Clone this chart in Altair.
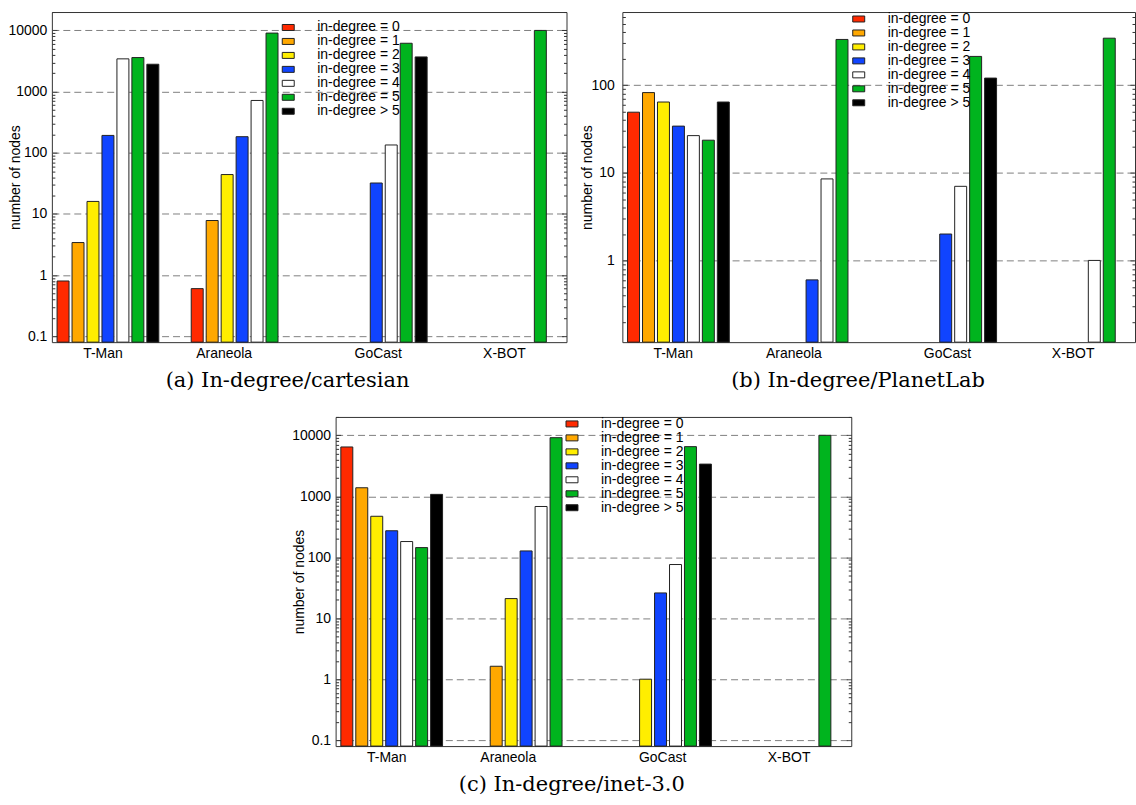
import altair as alt
import pandas as pd

FONT = "Liberation Sans"
SERIF = "DejaVu Serif"

groups = ["T-Man", "Araneola", "GoCast", "X-BOT"]
series = ["in-degree = 0", "in-degree = 1", "in-degree = 2", "in-degree = 3",
          "in-degree = 4", "in-degree = 5", "in-degree > 5"]
colors = ["#ff2a00", "#ffa800", "#ffee00", "#1044ff", "#ffffff", "#00b41e", "#000000"]

# values per group, one entry per series (None = no bar)
cartesian_tman = [0.8, 3.4, 16, 192, 3430, 3600, 2800]
cartesian_araneola = [0.6, 7.8, 44, 183, 716, 9050, None]
cartesian_gocast = [None, None, None, 32, 134, 6170, 3690]
cartesian_xbot = [None, None, None, None, None, 10000, None]

planetlab_tman = [49, 82, 64, 34, 26.5, 23.5, 64]
planetlab_araneola = [None, None, None, 0.6, 8.5, 331, None]
planetlab_gocast = [None, None, None, 2.0, 7.0, 212, 120]
planetlab_xbot = [None, None, None, None, 1.0, 342, None]

inet_tman = [6440, 1380, 470, 272, 181, 144, 1075]
inet_araneola = [None, 1.63, 21, 127, 680, 9140, None]
inet_gocast = [None, None, 1.0, 26, 76, 6520, 3370]
inet_xbot = [None, None, None, None, None, 10000, None]

major_ticks = [0.1, 1, 10, 100, 1000, 10000]
minor_mult = [2, 3, 4, 5, 6, 7, 8, 9]


def frame(rows):
    recs = []
    for g, vals in zip(groups, rows):
        for s, v in zip(series, vals):
            if v is not None:
                recs.append({"group": g, "series": s, "value": v})
    return pd.DataFrame(recs)


IS_MAJOR = "abs(log(datum.value)/LN10 - round(log(datum.value)/LN10)) < 0.001"


def y_axis(orient, ticks, label_pad, title_x, show_labels):
    kw = dict(
        orient=orient, values=ticks, offset=-5, tickSize=5,
        tickColor="#333333", tickWidth=1,
        tickDash={"condition": {"test": IS_MAJOR, "value": [1, 0]}, "value": [0, 2, 3, 100]},
        domain=False,
    )
    if show_labels:
        kw.update(
            grid=True, gridColor="#808080", gridDash=[7, 4], gridWidth=1,
            gridOpacity={"condition": {"test": IS_MAJOR, "value": 1}, "value": 0},
            labelExpr="(%s) ? datum.label : ''" % IS_MAJOR,
            format="~g", labelFont=FONT, labelFontSize=14, labelColor="black",
            labelPadding=label_pad,
            title="number of nodes", titleFont=FONT, titleFontSize=14,
            titleFontWeight="normal", titleColor="black", titleX=title_x,
        )
    else:
        kw.update(grid=False, labels=False, title=None)
    return alt.Axis(**kw)


def panel(rows, width, height, ydomain, caption, legend_y, label_pad, title_x):
    df = frame(rows)
    lo, hi = ydomain
    ticks = [m for m in major_ticks if lo <= m <= hi]
    ticks += [m * k for m in major_ticks for k in minor_mult if lo <= m * k <= hi]
    x = alt.X("group:N", sort=groups,
              scale=alt.Scale(domain=groups, paddingInner=0.2193, paddingOuter=0.0277),
              axis=alt.Axis(title=None, ticks=False, domain=False, labelAngle=0,
                            labelPadding=4, labelFont=FONT, labelFontSize=14,
                            labelColor="black",
                            labelOffset={"condition": [
                                {"test": "datum.value === 'T-Man'", "value": -5},
                                {"test": "datum.value === 'Araneola'", "value": -18},
                                {"test": "datum.value === 'X-BOT'", "value": -6}],
                                "value": 2}))
    xo = alt.XOffset("series:N", sort=series,
                     scale=alt.Scale(domain=series, paddingInner=0.2, paddingOuter=0.1))
    yscale = alt.Scale(type="log", domain=list(ydomain))
    bars = alt.Chart(df).mark_bar(stroke="#222222", strokeWidth=1).encode(
        x=x, xOffset=xo,
        y=alt.Y("value:Q", scale=yscale, stack=None,
                axis=y_axis("left", ticks, label_pad, title_x, True)),
        y2=alt.Y2(datum=lo),
        color=alt.Color("series:N", sort=series,
                        scale=alt.Scale(domain=series, range=colors),
                        legend=alt.Legend(orient="none", legendX=230, legendY=legend_y,
                                          title=None, padding=0,
                                          symbolType="M-1,-0.5H1V0.5H-1Z", symbolSize=144,
                                          symbolStrokeColor="#222222", symbolStrokeWidth=1,
                                          symbolOpacity=1,
                                          labelFont=FONT, labelFontSize=14, labelColor="black",
                                          labelOffset=22, rowPadding=0, labelLimit=200)),
    )
    right = alt.Chart(df).mark_bar(opacity=0).encode(
        x=x, xOffset=xo,
        y=alt.Y("value:Q", scale=yscale, stack=None,
                axis=y_axis("right", ticks, label_pad, title_x, False)),
        y2=alt.Y2(datum=lo),
    )
    return alt.layer(bars, right).resolve_axis(y="independent").properties(
        width=width, height=height,
        title=alt.TitleParams(caption, orient="bottom", font=SERIF, fontSize=21,
                              fontWeight="normal", color="black", offset=10,
                              anchor="middle", frame="bounds"),
    )


a = panel([cartesian_tman, cartesian_araneola, cartesian_gocast, cartesian_xbot],
          516, 331, (0.08, 20000), "(a) In-degree/cartesian", 8.5, 5, -34)
b = panel([planetlab_tman, planetlab_araneola, planetlab_gocast, planetlab_xbot],
          514, 331, (0.117, 680), "(b) In-degree/PlanetLab", 0, 8, -33)
c = panel([inet_tman, inet_araneola, inet_gocast, inet_xbot],
          517, 330, (0.08, 20000), "(c) In-degree/inet-3.0", 0, 5, -34)

top = alt.hconcat(a, b, spacing=12).resolve_legend(color="independent")
chart = alt.vconcat(top, c, spacing=24, center=True).resolve_legend(
    color="independent"
).properties(
    padding={"left": 7, "top": 10, "right": 0, "bottom": 0},
    background="white",
).configure_view(stroke="#333333", strokeWidth=1)

chart.save("out.html", embed_options={"renderer": "svg", "actions": False})
